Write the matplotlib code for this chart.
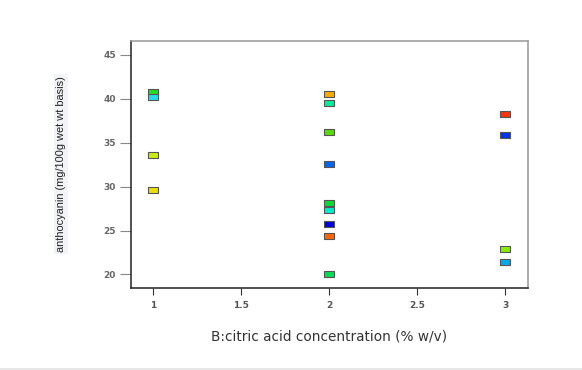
import matplotlib
matplotlib.use("Agg")
import matplotlib.pyplot as plt
from matplotlib.path import Path

# Data
x_vals = [1, 1, 1, 1,
          2, 2, 2, 2, 2, 2, 2, 2, 2,
          3, 3, 3, 3]
y_vals = [40.74, 40.17, 33.55, 29.57,
          40.51, 39.45, 36.19, 32.52, 28.13, 27.29, 25.77, 24.34, 20.02,
          38.27, 35.85, 22.86, 21.45]
point_colors = ["#22dd22", "#22ddee", "#ccee00", "#eedd00",
                "#ffaa00", "#00ee99", "#55dd00", "#0066ee", "#00dd33", "#00eecc",
                "#0000dd", "#ff6600", "#00dd55",
                "#ff3300", "#0033ee", "#88ee00", "#00aaee"]
x_ticks = [1, 1.5, 2, 2.5, 3]
x_tick_labels = ["1", "1.5", "2", "2.5", "3"]
y_ticks = [20, 25, 30, 35, 40, 45]
y_tick_labels = ["20", "25", "30", "35", "40", "45"]
x_label = "B:citric acid concentration (% w/v)"
y_label = "anthocyanin (mg/100g wet wt basis)"

W, H = 582, 370
fig = plt.figure(figsize=(W / 100, H / 100), dpi=100)
ax = fig.add_axes([131 / W, 1 - 288 / H, (528 - 131) / W, (288 - 41) / H])

rect = Path([(-1, -0.6), (1, -0.6), (1, 0.6), (-1, 0.6), (-1, -0.6)],
            [Path.MOVETO, Path.LINETO, Path.LINETO, Path.LINETO, Path.CLOSEPOLY])

for x, y, c in zip(x_vals, y_vals, point_colors):
    ax.plot([x], [y], marker=rect, markersize=6.6, markerfacecolor=c,
            markeredgecolor="#555555", markeredgewidth=0.8, linestyle="none",
            zorder=3)

ax.set_xlim(0.873, 3.13)
ax.set_ylim(18.46, 46.56)

ax.set_xticks(x_ticks)
ax.set_xticklabels(x_tick_labels)
ax.set_yticks(y_ticks)
ax.set_yticklabels(y_tick_labels)

ax.tick_params(axis="y", direction="out", length=8, width=0.8, color="#888888",
               labelsize=6.5, labelcolor="#666666", pad=3)
ax.tick_params(axis="x", direction="out", length=5, width=0.8, color="#333333",
               labelsize=6.5, labelcolor="#555555", pad=4)
for lbl in ax.get_xticklabels() + ax.get_yticklabels():
    lbl.set_fontweight("bold")

for s in ["left", "bottom"]:
    ax.spines[s].set_color("#222222")
    ax.spines[s].set_linewidth(1.1)
for s in ["top", "right"]:
    ax.spines[s].set_color("#999999")
    ax.spines[s].set_linewidth(1.1)

fig.text(329 / W, 1 - 337 / H, x_label, ha="center", va="center",
         fontsize=9.8, color="#333333", family="DejaVu Sans")
fig.text(61 / W, 1 - 164 / H, y_label, ha="center", va="center",
         rotation=90, fontsize=7.9, color="#222222",
         family=["Liberation Sans Narrow", "Liberation Sans", "DejaVu Sans"],
         bbox=dict(facecolor="#f1f3f7", edgecolor="none", pad=1.5))

# light gray separator line at the bottom of the image
fig.add_artist(plt.Line2D([0, 1], [1 - 368.5 / H, 1 - 368.5 / H],
                          transform=fig.transFigure, color="#e6e6e6", linewidth=2))

fig.savefig("out.png", dpi=100, facecolor="white")
